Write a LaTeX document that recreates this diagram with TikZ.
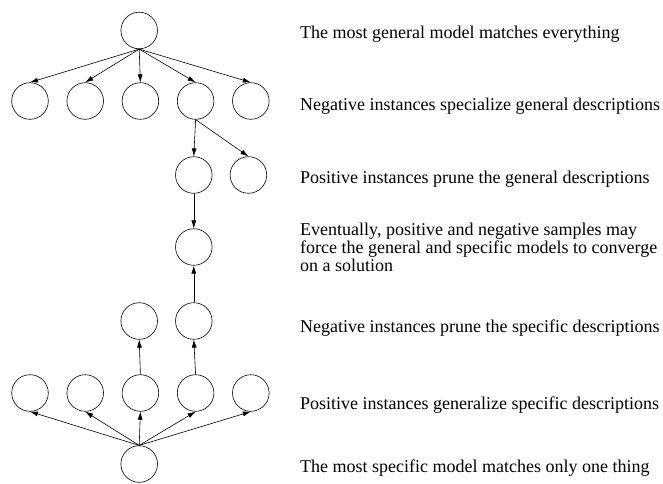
\documentclass[tikz,border=0pt]{standalone}
\usepackage{fontspec}
\setmainfont{Liberation Serif}
\usetikzlibrary{arrows.meta,chains}

\begin{document}
\begin{tikzpicture}[
  x=1pt,y=-1pt,
  node distance=18pt,
  start chain=specialized going right,
  start chain=generalized going right,
  model/.style={draw,circle,line width=0.6pt,minimum size=36.6pt,inner sep=0pt},
  every on chain/.style={model},
  link/.style={-{Latex[length=8pt,width=5pt]},line width=0.6pt},
  note/.style={anchor=base west,align=left,inner sep=0pt,font=\fontsize{18}{18.2}\selectfont}
]
  \useasboundingbox (0,0) rectangle (663,483);

  \node[model] (most-general) at (139.2,30.5) {};

  \node[on chain=specialized] (specialized-1) at (30,101) {};
  \node[on chain=specialized] (specialized-2) {};
  \node[on chain=specialized] (specialized-3) {};
  \node[on chain=specialized] (specialized-4) {};
  \node[on chain=specialized] (specialized-5) {};

  \node[model] (pruned-general-1) at (193.8,175) {};
  \node[model] (pruned-general-2) at (248.4,175) {};
  \node[model] (solution) at (193.8,247) {};
  \node[model] (pruned-specific-1) at (139.2,321) {};
  \node[model] (pruned-specific-2) at (193.8,321) {};

  \node[on chain=generalized] (generalized-1) at (30,393) {};
  \node[on chain=generalized] (generalized-2) {};
  \node[on chain=generalized] (generalized-3) {};
  \node[on chain=generalized] (generalized-4) {};
  \node[on chain=generalized] (generalized-5) {};

  \node[model] (most-specific) at (139.2,464) {};

  % general boundary moves down
  \draw[link] (most-general.south) -- (specialized-1.north);
  \draw[link] (most-general.south) -- (specialized-2.north);
  \draw[link] (most-general.south) -- (specialized-3.north);
  \draw[link] (most-general.south) -- (specialized-4.north);
  \draw[link] (most-general.south) -- (specialized-5.north);
  \draw[link] (specialized-4.south) -- (pruned-general-1.north);
  \draw[link] (specialized-4.south) -- (pruned-general-2.north);
  \draw[link] (pruned-general-1.south) -- (solution.north);

  % specific boundary moves up
  \draw[link] (most-specific.north) -- (generalized-1.south);
  \draw[link] (most-specific.north) -- (generalized-2.south);
  \draw[link] (most-specific.north) -- (generalized-3.south);
  \draw[link] (most-specific.north) -- (generalized-4.south);
  \draw[link] (most-specific.north) -- (generalized-5.south);
  \draw[link] (generalized-3.north) -- (pruned-specific-1.south);
  \draw[link] (generalized-4.north) -- (pruned-specific-2.south);
  \draw[link] (pruned-specific-2.north) -- (solution.south);

  \node[note] (note-general) at (300,38.3) {The most general model matches everything};
  \node[note] (note-specialize) at (300,110) {Negative instances specialize general descriptions};
  \node[note] (note-prune-general) at (300,183) {Positive instances prune the general descriptions};
  % base of a wrapped note sits on its last line
  \node[note] (note-converge) at (300,271.5) {Eventually, positive and negative samples may\\force the general and specific models to converge\\on a solution};
  \node[note] (note-prune-specific) at (300,332) {Negative instances prune the specific descriptions};
  \node[note] (note-generalize) at (300,409) {Positive instances generalize specific descriptions};
  \node[note] (note-specific) at (300,472) {The most specific model matches only one thing};
\end{tikzpicture}
\end{document}
